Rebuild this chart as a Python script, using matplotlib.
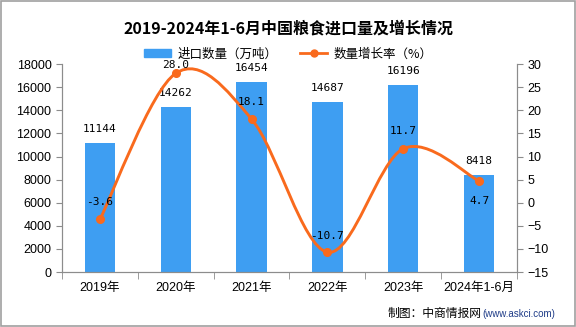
import matplotlib.pyplot as plt
from matplotlib.path import Path
from matplotlib.patches import PathPatch, Rectangle
from matplotlib.lines import Line2D

plt.rcParams['font.family'] = ['Liberation Sans', 'Noto Sans CJK SC', 'DejaVu Sans']

years = ['2019年', '2020年', '2021年', '2022年', '2023年', '2024年1-6月']
imports = [11144, 14262, 16454, 14687, 16196, 8418]
growth = [-3.6, 28.0, 18.1, -10.7, 11.7, 4.7]

bar_color = '#3e9ef2'
line_color = '#f96a1d'
axis_gray = '#8c8c8c'

fig = plt.figure(figsize=(5.76, 3.27), dpi=100)
ax = fig.add_axes([0.1076, 0.168, 0.79, 0.636])
ax2 = ax.twinx()

x = list(range(len(years)))
ax.bar(x, imports, width=0.4, color=bar_color, zorder=2)
for xi, v in zip(x, imports):
    ax.annotate(str(v), (xi, v), xytext=(0, 10), textcoords='offset points',
                ha='center', va='center', fontsize=8, family=['DejaVu Sans Mono'])

# smooth curve through points (Catmull-Rom -> bezier)
verts = [(x[0], growth[0])]
codes = [Path.MOVETO]
pts = list(zip(x, growth))
for i in range(len(pts) - 1):
    p0 = pts[i - 1] if i > 0 else pts[i]
    p1 = pts[i]
    p2 = pts[i + 1]
    p3 = pts[i + 2] if i + 2 < len(pts) else pts[i + 1]
    c1 = (p1[0] + (p2[0] - p0[0]) / 6, p1[1] + (p2[1] - p0[1]) / 6)
    c2 = (p2[0] - (p3[0] - p1[0]) / 6, p2[1] - (p3[1] - p1[1]) / 6)
    verts += [c1, c2, p2]
    codes += [Path.CURVE4] * 3
ax2.add_patch(PathPatch(Path(verts, codes), fill=False, edgecolor=line_color,
                        lw=2.1, zorder=3))
ax2.plot(x, growth, 'o', color=line_color, markersize=5.5, zorder=4)
offsets = [12.5, 6, 12.5, 12, 12.5, -14.5]
for xi, v, dy in zip(x, growth, offsets):
    ax2.annotate('%.1f' % v, (xi, v), xytext=(0, dy), textcoords='offset points',
                 ha='center', va='center', fontsize=8, family=['DejaVu Sans Mono'])

ax.set_xlim(-0.5, len(years) - 0.5)
ax.set_ylim(0, 18000)
ax.set_yticks(range(0, 18001, 2000))
ax2.set_ylim(-15, 30)
ax2.set_yticks(range(-15, 31, 5))
ax.set_xticks(x)
ax.set_xticklabels(years)
ax.set_xticks([i - 0.5 for i in range(len(years) + 1)], minor=True)
ax.tick_params(axis='x', which='major', length=0, labelsize=9, pad=7)
ax.tick_params(axis='x', which='minor', length=5, color=axis_gray)
ax.tick_params(axis='y', length=4, color=axis_gray, labelsize=9)
ax2.tick_params(axis='y', length=4, color=axis_gray, labelsize=9)

for a in (ax, ax2):
    a.spines['top'].set_visible(False)
    for s in ('left', 'right', 'bottom'):
        a.spines[s].set_color(axis_gray)
ax.patch.set_alpha(0)

fig.text(0.5, 0.912, '2019-2024年1-6月中国粮食进口量及增长情况', ha='center', va='center',
         fontsize=11.5, fontweight='bold', family=['Noto Sans CJK SC'])

handles = [Rectangle((0, 0), 1, 1, color=bar_color),
           Line2D([], [], color=line_color, lw=2, marker='o', markersize=5)]
fig.legend(handles, ['进口数量（万吨）', '数量增长率（%）'], loc='center',
           bbox_to_anchor=(0.5, 0.835), ncol=2, frameon=False,
           prop={'family': ['Noto Sans CJK SC'], 'size': 9},
           handlelength=2.2, columnspacing=1.8, handletextpad=0.5)

fig.text(0.836, 0.04, '制图：中商情报网', ha='right', va='center', fontsize=8.5,
         family=['Noto Sans CJK SC'])
fig.text(0.838, 0.04, '(www.askci.com)', ha='left', va='center', fontsize=7,
         color='#1f3c88')

fig.patches.append(Rectangle((0.001, 0.002), 0.997, 0.995, transform=fig.transFigure,
                             fill=False, edgecolor='#a0a0a0', lw=1.2))

fig.savefig('out.png', dpi=100)
